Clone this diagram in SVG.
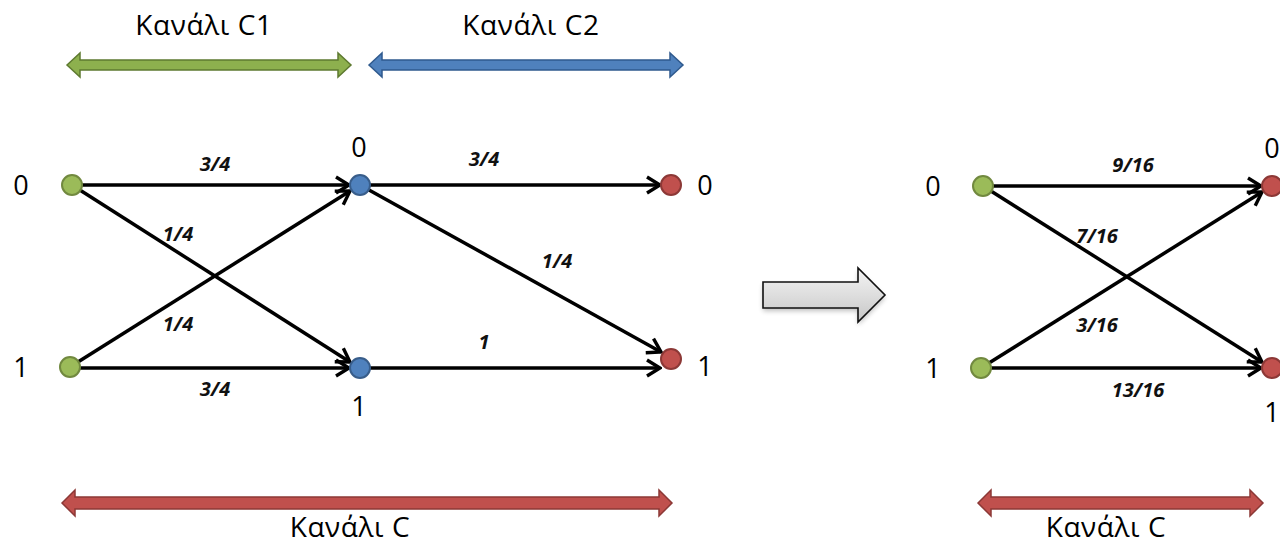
<svg xmlns="http://www.w3.org/2000/svg" width="1280" height="545" viewBox="0 0 1280 545">
  <defs>
    <style>
      .lbl { font-family: "Open Sans", "Noto Sans", "DejaVu Sans", sans-serif; font-size: 28px; letter-spacing: 0.6px; fill: #000; text-anchor: middle; }
      .num { font-family: "Open Sans", "Noto Sans", "DejaVu Sans", sans-serif; font-size: 27px; fill: #000; text-anchor: middle; }
      .prob { font-family: "Open Sans", "Noto Sans", "DejaVu Sans", sans-serif; font-size: 20px; font-weight: bold; font-style: italic; fill: #111; text-anchor: middle; }
      .edge { stroke: #000; stroke-width: 3.5; fill: none; marker-end: url(#chev); }
      .in { fill: #9BBB59; stroke: #71893F; stroke-width: 2; }
      .mid { fill: #4F81BD; stroke: #385D8A; stroke-width: 2; }
      .out { fill: #C0504D; stroke: #8C3836; stroke-width: 2; }
      .bar-g { fill: #8DB04E; stroke: #5E7A30; stroke-width: 1.5; }
      .bar-b { fill: #4F81BD; stroke: #2F5A8E; stroke-width: 1.5; }
      .bar-r { fill: #C0504D; stroke: #8C3836; stroke-width: 1.5; }
    </style>
    <marker id="chev" markerUnits="userSpaceOnUse" viewBox="-16 -10 18 20" refX="0" refY="0" markerWidth="18" markerHeight="20" orient="auto">
      <path d="M-13,-8 L0,0 L-13,8" fill="none" stroke="#000" stroke-width="3.4" stroke-linejoin="miter"/>
    </marker>
    <linearGradient id="grey" x1="0" y1="0" x2="0" y2="1">
      <stop offset="0" stop-color="#f4f4f4"/>
      <stop offset="0.5" stop-color="#dedede"/>
      <stop offset="1" stop-color="#c6c6c6"/>
    </linearGradient>
    <filter id="soft" x="-20%" y="-30%" width="140%" height="160%">
      <feGaussianBlur stdDeviation="2.5"/>
    </filter>
  </defs>
  <rect width="1280" height="545" fill="#fff"/>

  <!-- channel span bars -->
  <g id="span-c1">
    <path class="bar-g" d="M67,65 L80,53 L80,60 L338,60 L338,53 L351,65 L338,77 L338,70 L80,70 L80,77 Z"/>
    <text class="lbl" x="204" y="35">Κανάλι C1</text>
  </g>
  <g id="span-c2">
    <path class="bar-b" d="M369,65 L382,53 L382,60 L670,60 L670,53 L683,65 L670,77 L670,70 L382,70 L382,77 Z"/>
    <text class="lbl" x="531" y="35">Κανάλι C2</text>
  </g>
  <g id="span-c">
    <path class="bar-r" d="M62,503 L75,490 L75,497 L659,497 L659,490 L672,503 L659,516 L659,509 L75,509 L75,516 Z"/>
    <text class="lbl" x="350" y="537">Κανάλι C</text>
  </g>
  <g id="span-c-eq">
    <path class="bar-r" d="M978,503 L991,490 L991,497 L1250,497 L1250,490 L1263,503 L1250,516 L1250,509 L991,509 L991,516 Z"/>
    <text class="lbl" x="1106" y="537">Κανάλι C</text>
  </g>

  <!-- equivalence arrow -->
  <g id="equiv-arrow">
    <path d="M763,285 L858,285 L858,271 L885,298 L858,325 L858,311 L763,311 Z" fill="#000" opacity="0.25" filter="url(#soft)"/>
    <path d="M763,282 L858,282 L858,268 L885,295 L858,322 L858,308 L763,308 Z" fill="url(#grey)" stroke="#111" stroke-width="1.6"/>
  </g>

  <!-- connectors -->
  <g id="connectors">
    <!-- C1 -->
    <line class="edge" x1="72" y1="185" x2="349" y2="185"/>
    <line class="edge" x1="72" y1="185" x2="350" y2="362"/>
    <line class="edge" x1="70" y1="367" x2="350" y2="191"/>
    <line class="edge" x1="70" y1="368" x2="349" y2="368"/>
    <!-- C2 -->
    <line class="edge" x1="360" y1="185" x2="660" y2="185"/>
    <line class="edge" x1="360" y1="185" x2="661" y2="352"/>
    <line class="edge" x1="360" y1="368" x2="660" y2="368"/>
    <!-- C -->
    <line class="edge" x1="983" y1="186" x2="1261" y2="186"/>
    <line class="edge" x1="983" y1="186" x2="1262" y2="362"/>
    <line class="edge" x1="981" y1="368" x2="1262" y2="192"/>
    <line class="edge" x1="981" y1="368" x2="1261" y2="368"/>
  </g>

  <!-- transition probabilities -->
  <g id="probabilities">
    <text class="prob" x="215" y="171">3/4</text>
    <text class="prob" x="178" y="241">1/4</text>
    <text class="prob" x="178" y="331">1/4</text>
    <text class="prob" x="215" y="396">3/4</text>
    <text class="prob" x="484" y="166">3/4</text>
    <text class="prob" x="557" y="268">1/4</text>
    <text class="prob" x="484" y="349">1</text>
    <text class="prob" x="1133" y="172">9/16</text>
    <text class="prob" x="1097" y="243">7/16</text>
    <text class="prob" x="1097" y="332">3/16</text>
    <text class="prob" x="1138" y="397">13/16</text>
  </g>

  <!-- C1 inputs -->
  <g id="x0">
    <circle class="in" cx="72" cy="185" r="10"/>
    <text class="num" x="21" y="195">0</text>
  </g>
  <g id="x1">
    <circle class="in" cx="70" cy="367" r="10"/>
    <text class="num" x="21" y="377">1</text>
  </g>
  <!-- intermediate symbols -->
  <g id="y0">
    <circle class="mid" cx="360" cy="185" r="10"/>
    <text class="num" x="359" y="157">0</text>
  </g>
  <g id="y1">
    <circle class="mid" cx="360" cy="368" r="10"/>
    <text class="num" x="359" y="416">1</text>
  </g>
  <!-- C2 outputs -->
  <g id="z0">
    <circle class="out" cx="671" cy="185" r="10"/>
    <text class="num" x="705" y="195">0</text>
  </g>
  <g id="z1">
    <circle class="out" cx="671" cy="359" r="10"/>
    <text class="num" x="705" y="376">1</text>
  </g>

  <!-- equivalent channel -->
  <g id="c-x0">
    <circle class="in" cx="983" cy="186" r="10"/>
    <text class="num" x="933" y="196">0</text>
  </g>
  <g id="c-x1">
    <circle class="in" cx="981" cy="368" r="10"/>
    <text class="num" x="933" y="378">1</text>
  </g>
  <g id="c-z0">
    <circle class="out" cx="1272" cy="186" r="10"/>
    <text class="num" x="1272" y="158">0</text>
  </g>
  <g id="c-z1">
    <circle class="out" cx="1272" cy="368" r="10"/>
    <text class="num" x="1272" y="422">1</text>
  </g>
</svg>
